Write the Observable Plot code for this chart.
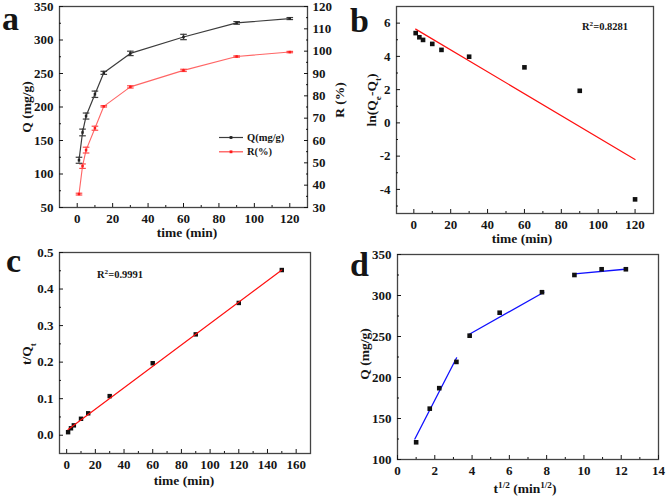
<!DOCTYPE html>
<html><head><meta charset="utf-8">
<script src="https://cdn.jsdelivr.net/npm/d3@7"></script>
<script src="https://cdn.jsdelivr.net/npm/@observablehq/plot@0.6"></script>
<style>
body{margin:0;background:#fff;}
#wrap{position:relative;width:666px;height:496px;overflow:hidden;background:#fff;}
</style></head><body><div id="wrap"></div>
<script>
// ---------- data ----------
// panel a: adsorption capacity Q and removal rate R versus time
const timeA = [1, 3, 5, 10, 15, 30, 60, 90, 120];
const qValues = [120.5, 162, 186.5, 219, 251, 280, 304.5, 325.5, 332];
const qErrors = [4.5, 5, 4.5, 4.75, 2.3, 3.3, 4, 2, 1.5];
const rValues = [36, 48.5, 55.7, 65.5, 75.3, 84, 91.4, 97.6, 99.6];
const rErrors = [0.4, 1, 1.3, 0.9, 0.3, 0.5, 0.5, 0.3, 0.3];
// panel b: pseudo-first-order
const pfoTime = [1, 3, 5, 10, 15, 30, 60, 90, 120];
const pfoLn = [5.4, 5.15, 4.99, 4.75, 4.39, 3.98, 3.34, 1.93, -4.6];
const pfoFitTime = [1, 120];
const pfoFitLn = [5.64, -2.2];
const pfoR2 = "0.8281";
// panel c: pseudo-second-order
const psoTime = [1, 3, 5, 10, 15, 30, 60, 90, 120, 150];
const psoTQ = [0.0083, 0.019, 0.027, 0.045, 0.06, 0.107, 0.197, 0.276, 0.362, 0.452];
const psoFitTime = [1, 150];
const psoFitTQ = [0.0155, 0.452];
const psoR2 = "0.9991";
// panel d: intraparticle diffusion
const ipdSqrtT = [1, 1.73, 2.24, 3.16, 3.87, 5.48, 7.75, 9.49, 10.95, 12.25];
const ipdQ = [121, 162, 187, 219, 251, 279, 304, 325, 332, 332];
const ipdFitStage = [1, 1, 2, 2, 3, 3];
const ipdFitX = [0.93, 3.17, 3.83, 7.85, 9.5, 12.2];
const ipdFitQ = [125, 224, 252.4, 304, 326.4, 332];

// tick values
const aXMajor = [0, 20, 40, 60, 80, 100, 120], aXMinor = [10, 30, 50, 70, 90, 110];
const aYMajor = [50, 100, 150, 200, 250, 300, 350], aYMinor = [75, 125, 175, 225, 275, 325];
const aRMajor = [30, 40, 50, 60, 70, 80, 90, 100, 110, 120], aRMinor = [35, 45, 55, 65, 75, 85, 95, 105, 115];
const bXMajor = [0, 20, 40, 60, 80, 100, 120], bXMinor = [10, 30, 50, 70, 90, 110];
const bYMajor = [-4, -2, 0, 2, 4, 6], bYMinor = [-5, -3, -1, 1, 3, 5];
const cXMajor = [0, 20, 40, 60, 80, 100, 120, 140, 160], cXMinor = [10, 30, 50, 70, 90, 110, 130, 150];
const cYMajor = [0, 0.1, 0.2, 0.3, 0.4, 0.5], cYMinor = [0.05, 0.15, 0.25, 0.35, 0.45];
const dXMajor = [0, 2, 4, 6, 8, 10, 12, 14], dXMinor = [1, 3, 5, 7, 9, 11, 13];
const dYMajor = [100, 150, 200, 250, 300, 350], dYMinor = [125, 175, 225, 275, 325];

// ---------- helpers ----------
const FONT = "'Liberation Serif', 'Times New Roman', serif";
const INK = "#151515";
const wrap = document.getElementById("wrap");

function axes(xMaj, xMin, yMaj, yMin, fx, fy) {
  const common = {color: INK, fontSize: 13, fontWeight: "bold", label: null, fontFamily: FONT};
  return [
    Plot.axisX({...common, ticks: xMaj, anchor: "bottom", tickSize: -4, tickPadding: 10, tickFormat: fx}),
    Plot.axisX({...common, ticks: xMin, anchor: "bottom", tickSize: -2, tickFormat: () => ""}),
    Plot.axisY({...common, ticks: yMaj, anchor: "left", tickSize: -4, tickPadding: 10, tickFormat: fy}),
    Plot.axisY({...common, ticks: yMin, anchor: "left", tickSize: -2, tickFormat: () => ""})
  ];
}
function place(p, left, top) {
  p.style.position = "absolute";
  p.style.left = left + "px";
  p.style.top = top + "px";
  p.style.maxWidth = "none";
  wrap.append(p);
}
const baseStyle = {background: "transparent", overflow: "visible", fontFamily: FONT, fontWeight: "bold", fontSize: "13px"};
const fmtPlain = d => String(d);

// ---------- panel a ----------
{
  const rToQ = r => 50 + (r - 30) * 300 / 90;
  const qToR = q => 30 + (q - 50) * 90 / 300;
  const data = timeA.map((t, i) => ({t, q: qValues[i], qe: qErrors[i], r: rToQ(rValues[i]), rlo: rToQ(rValues[i] - rErrors[i]), rhi: rToQ(rValues[i] + rErrors[i])}));
  const xDom = [-10, 130], W = 333, ML = 59, MR = 26;
  const cap = 3.3 * (xDom[1] - xDom[0]) / (W - ML - MR);
  const qCol = "#3c3c3c", rCol = "#ff4a4a";
  const common = {color: INK, fontSize: 13, fontWeight: "bold", label: null, fontFamily: FONT};
  const p = Plot.plot({
    width: W, height: 240, marginLeft: ML, marginRight: MR, marginTop: 6, marginBottom: 33,
    x: {domain: xDom, label: null}, y: {domain: [50, 350], label: null},
    style: baseStyle,
    marks: [
      Plot.frame({stroke: "#444", strokeWidth: 1.3}),
      ...axes(aXMajor, aXMinor, aYMajor, aYMinor, fmtPlain, fmtPlain),
      Plot.axisY({...common, ticks: aRMajor.map(rToQ), anchor: "right", tickSize: -4, tickPadding: 9, tickFormat: q => Math.round(qToR(q))}),
      Plot.axisY({...common, ticks: aRMinor.map(rToQ), anchor: "right", tickSize: -2, tickFormat: () => ""}),
      Plot.line(data, {x: "t", y: "r", stroke: rCol, strokeWidth: 1.1, strokeOpacity: 0.85}),
      Plot.ruleX(data, {x: "t", y1: "rlo", y2: "rhi", stroke: rCol, strokeWidth: 1.2}),
      Plot.link(data, {x1: d => d.t - cap, x2: d => d.t + cap, y1: "rlo", y2: "rlo", stroke: rCol, strokeWidth: 1.2}),
      Plot.link(data, {x1: d => d.t - cap, x2: d => d.t + cap, y1: "rhi", y2: "rhi", stroke: rCol, strokeWidth: 1.2}),
      Plot.dot(data, {x: "t", y: "r", symbol: "square", r: 1.4, fill: "#ff1a1a"}),
      Plot.line(data, {x: "t", y: "q", stroke: qCol, strokeWidth: 1.2}),
      Plot.ruleX(data, {x: "t", y1: d => d.q - d.qe, y2: d => d.q + d.qe, stroke: qCol, strokeWidth: 1.2}),
      Plot.link(data, {x1: d => d.t - cap, x2: d => d.t + cap, y1: d => d.q - d.qe, y2: d => d.q - d.qe, stroke: qCol, strokeWidth: 1.2}),
      Plot.link(data, {x1: d => d.t - cap, x2: d => d.t + cap, y1: d => d.q + d.qe, y2: d => d.q + d.qe, stroke: qCol, strokeWidth: 1.2}),
      Plot.dot(data, {x: "t", y: "q", symbol: "square", r: 1.4, fill: "#222"})
    ]
  });
  place(p, 0, 0);
}

// ---------- panel b ----------
{
  const pts = pfoTime.map((t, i) => ({t, v: pfoLn[i]}));
  const fit = pfoFitTime.map((t, i) => ({t, v: pfoFitLn[i]}));
  const p = Plot.plot({
    width: 333, height: 240, marginLeft: 63, marginRight: 13, marginTop: 6, marginBottom: 27,
    x: {domain: [-9.4, 130], label: null}, y: {domain: [-5.45, 7], label: null},
    style: baseStyle,
    marks: [
      Plot.frame({stroke: "#444", strokeWidth: 1.3}),
      ...axes(bXMajor, bXMinor, bYMajor, bYMinor, fmtPlain, fmtPlain),
      Plot.line(fit, {x: "t", y: "v", stroke: "#ff1010", strokeWidth: 1.2}),
      Plot.dot(pts, {x: "t", y: "v", symbol: "square", r: 2.6, fill: "#111"})
    ]
  });
  place(p, 333, 0);
}

// ---------- panel c ----------
{
  const pts = psoTime.map((t, i) => ({t, v: psoTQ[i]}));
  const fit = psoFitTime.map((t, i) => ({t, v: psoFitTQ[i]}));
  const p = Plot.plot({
    width: 333, height: 256, marginLeft: 59, marginRight: 23, marginTop: 12, marginBottom: 43,
    x: {domain: [-5, 170], label: null}, y: {domain: [-0.05, 0.5], label: null},
    style: baseStyle,
    marks: [
      Plot.frame({stroke: "#444", strokeWidth: 1.3}),
      ...axes(cXMajor, cXMinor, cYMajor, cYMinor, fmtPlain, d3.format(".1f")),
      Plot.dot(pts, {x: "t", y: "v", symbol: "square", r: 2.5, fill: "#111"}),
      Plot.line(fit, {x: "t", y: "v", stroke: "#ff1010", strokeWidth: 1.2})
    ]
  });
  place(p, 0, 240);
}

// ---------- panel d ----------
{
  const pts = ipdSqrtT.map((x, i) => ({x, q: ipdQ[i]}));
  const fit = ipdFitX.map((x, i) => ({x, q: ipdFitQ[i], s: ipdFitStage[i]}));
  const p = Plot.plot({
    width: 333, height: 256, marginLeft: 64, marginRight: 8, marginTop: 14, marginBottom: 37,
    x: {domain: [0, 14], label: null}, y: {domain: [100, 350], label: null},
    style: baseStyle,
    marks: [
      Plot.frame({stroke: "#444", strokeWidth: 1.3}),
      ...axes(dXMajor, dXMinor, dYMajor, dYMinor, fmtPlain, fmtPlain),
      Plot.line(fit, {x: "x", y: "q", z: "s", stroke: "#1010ff", strokeWidth: 1.3}),
      Plot.dot(pts, {x: "x", y: "q", symbol: "square", r: 2.6, fill: "#111"})
    ]
  });
  place(p, 333, 240);
}

// ---------- titles, panel letters, legend ----------
const ov = d3.create("svg").attr("width", 666).attr("height", 496)
  .style("position", "absolute").style("left", "0px").style("top", "0px").style("overflow", "visible")
  .attr("font-family", FONT).attr("font-weight", "bold").attr("fill", INK);

function label(x, y, rot, parts, size = 13.5, anchor = "middle") {
  const t = ov.append("text").attr("transform", `translate(${x},${y}) rotate(${rot})`)
    .attr("text-anchor", anchor).attr("dy", "0.35em").attr("font-size", size);
  for (const [s, kind] of parts) {
    const ts = t.append("tspan").text(s);
    if (kind === "sub") ts.attr("font-size", size * 0.68).attr("baseline-shift", "sub");
    if (kind === "sup") ts.attr("font-size", size * 0.68).attr("baseline-shift", "super");
  }
}
// panel a
label(26, 107, -90, [["Q (mg/g)"]]);
label(339, 100, -90, [["R (%)"]]);
label(187, 232, 0, [["time (min)"]]);
// panel b
label(371, 100, -90, [["ln(Q"], ["e", "sub"], ["-Q"], ["t", "sub"], [")"]]);
label(522, 238, 0, [["time (min)"]]);
label(582, 26, 0, [["R"], ["2", "sup"], ["=" + pfoR2]], 10.5, "start");
// panel c
label(26, 354, -90, [["t/Q"], ["t", "sub"]]);
label(184, 480, 0, [["time (min)"]]);
label(97, 274, 0, [["R"], ["2", "sup"], ["=" + psoR2]], 10.5, "start");
// panel d
label(364, 354, -90, [["Q (mg/g)"]]);
label(525, 488, 0, [["t"], ["1/2", "sup"], [" (min"], ["1/2", "sup"], [")"]]);

// panel letters
for (const [s, x, y] of [["a", 2, 30], ["b", 350, 32], ["c", 6, 272], ["d", 350, 276]]) {
  ov.append("text").attr("x", x).attr("y", y).attr("font-size", 34).text(s);
}

// legend (panel a)
const legendItems = [["Q(mg/g)", "#3c3c3c", "#222"], ["R(%)", "#ff4a4a", "#ff1a1a"]];
legendItems.forEach(([name, line, mark], i) => {
  const y = 137.5 + i * 14.3;
  ov.append("line").attr("x1", 219).attr("x2", 243).attr("y1", y).attr("y2", y).attr("stroke", line).attr("stroke-width", 1.2);
  ov.append("rect").attr("x", 229.6).attr("y", y - 1.4).attr("width", 2.8).attr("height", 2.8).attr("fill", mark);
  ov.append("text").attr("x", 247).attr("y", y).attr("dy", "0.35em").attr("font-size", 10.5).text(name);
});

wrap.append(ov.node());
</script></body></html>
